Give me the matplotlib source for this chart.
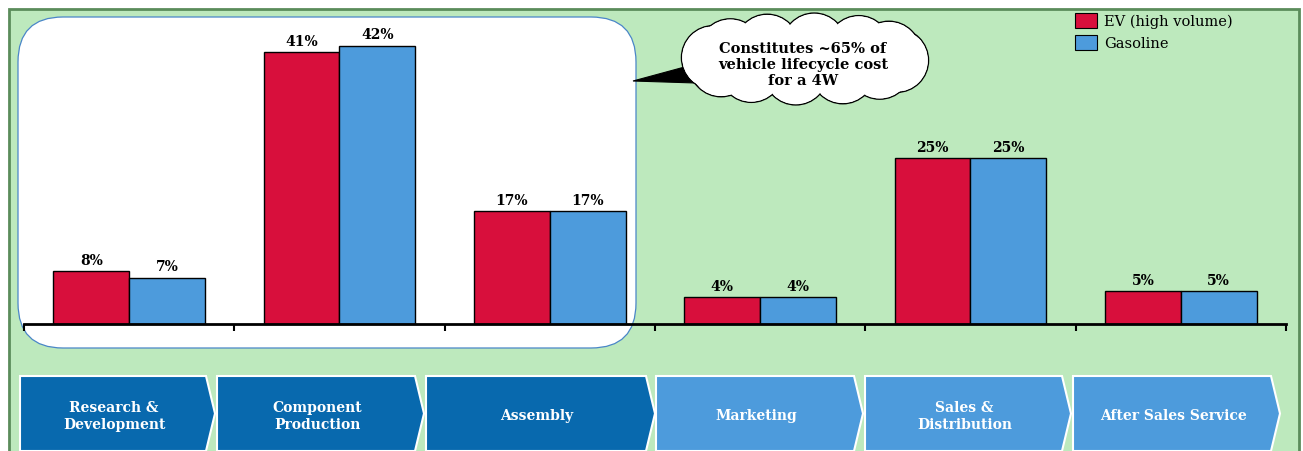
import numpy as np
import matplotlib.pyplot as plt
from matplotlib.patches import Rectangle, FancyBboxPatch, Polygon, Circle, Ellipse, Patch

# value chain stages and cost share per stage (%)
stages = ["Research &\nDevelopment", "Component\nProduction", "Assembly",
          "Marketing", "Sales &\nDistribution", "After Sales Service"]
ev_share = [8, 41, 17, 4, 25, 5]
gas_share = [7, 42, 17, 4, 25, 5]
series_names = ["EV (high volume)", "Gasoline"]
callout_text = "Constitutes ~65% of\nvehicle lifecycle cost\nfor a 4W"

RED = "#d80f3c"
BLUE = "#4d9bdc"
DARK_BLUE = "#0869ae"
GREEN = "#bde9bd"
SERIF = "DejaVu Serif"

W, H = 1303, 452
fig = plt.figure(figsize=(W / 100, H / 100), dpi=100)

# background layer in pixel coordinates
bg = fig.add_axes([0, 0, 1, 1], zorder=0)
bg.set_xlim(0, W)
bg.set_ylim(H, 0)
bg.axis("off")
bg.add_patch(Rectangle((9, 10), 1290, 460, facecolor=GREEN, edgecolor="#5b8c5b", lw=2))
bg.add_patch(FancyBboxPatch((18, 18), 618, 331, boxstyle="round,pad=0,rounding_size=45",
                            facecolor="white", edgecolor="#4a86c8", lw=0.9))

# chevrons under the chart
chevrons = [(20, 215), (217, 424), (426, 655), (656, 863), (865, 1071), (1073, 1280)]
top, bot, tip = 377, 452, 9
for i, ((x0, x1), label) in enumerate(zip(chevrons, stages)):
    col = DARK_BLUE if i < 3 else BLUE
    pts = [(x0, top), (x1 - tip, top), (x1, (top + bot) / 2), (x1 - tip, bot), (x0, bot)]
    bg.add_patch(Polygon(pts, closed=True, facecolor=col, edgecolor="white", lw=1.5))
    bg.text((x0 + x1 - tip) / 2 + 1, (top + bot) / 2 + 2, label, ha="center", va="center",
            color="white", fontsize=10, fontweight="bold", family=SERIF, linespacing=1.35)

# bar chart
ax = fig.add_axes([24 / W, (H - 325) / H, (1286 - 24) / W, (325 - 20) / H], zorder=1)
ax.patch.set_visible(False)
x = np.arange(len(stages))
w = 0.36
b1 = ax.bar(x - w / 2, ev_share, w, color=RED, edgecolor="black", lw=1)
b2 = ax.bar(x + w / 2, gas_share, w, color=BLUE, edgecolor="black", lw=1)
for bars, vals in ((b1, ev_share), (b2, gas_share)):
    for bar, v in zip(bars, vals):
        ax.annotate(f"{v}%", (bar.get_x() + bar.get_width() / 2, v), xytext=(0, 3),
                    textcoords="offset points", ha="center", va="bottom",
                    fontsize=10, fontweight="bold", family=SERIF)
ax.set_xlim(-0.5, len(stages) - 0.5)
ax.set_ylim(0, 305 / 6.63)
for s in ("top", "right", "left"):
    ax.spines[s].set_visible(False)
ax.spines["bottom"].set_linewidth(2)
ax.set_xticks(np.arange(-0.5, len(stages), 1))
ax.tick_params(axis="x", direction="out", length=5, width=1.5, labelbottom=False)
ax.set_yticks([])

fig.legend([Patch(facecolor=RED, edgecolor="black", lw=0.8),
            Patch(facecolor=BLUE, edgecolor="black", lw=0.8)], series_names,
           loc="upper left", bbox_to_anchor=(1075 / W, 1 - 14 / H), frameon=False,
           borderpad=0, borderaxespad=0, handlelength=1.5, handleheight=1.2,
           handletextpad=0.5, labelspacing=0.45, prop={"family": SERIF, "size": 10.5})

# cloud callout: ring of overlapping circles, outline only on the outside
ov = fig.add_axes([0, 0, 1, 1], zorder=2)
ov.set_xlim(0, W)
ov.set_ylim(H, 0)
ov.axis("off")
cx, cy, a, b, r = 805, 60, 92, 14, 32
ov.add_patch(Polygon([(633, 82), (692, 66), (696, 84)], closed=True, facecolor="black",
                     edgecolor="black", lw=0.8, zorder=1))
angles = np.linspace(0, 2 * np.pi, 13)[:-1] + 0.1
centers = [(cx + a * np.cos(t), cy + b * np.sin(t)) for t in angles]
for c in centers:
    ov.add_patch(Circle(c, r, facecolor="white", edgecolor="black", lw=1, zorder=2))
for c in centers:
    ov.add_patch(Circle(c, r - 0.8, facecolor="white", edgecolor="none", zorder=3))
ov.add_patch(Ellipse((cx, cy), 2 * a, 2 * (b + r) - 24, facecolor="white", edgecolor="none",
                     zorder=3))
ov.text(cx - 2, cy + 5, callout_text, ha="center", va="center", fontsize=10.5,
        fontweight="bold", family=SERIF, linespacing=1.15, zorder=4)

fig.savefig("out.png", dpi=100)
